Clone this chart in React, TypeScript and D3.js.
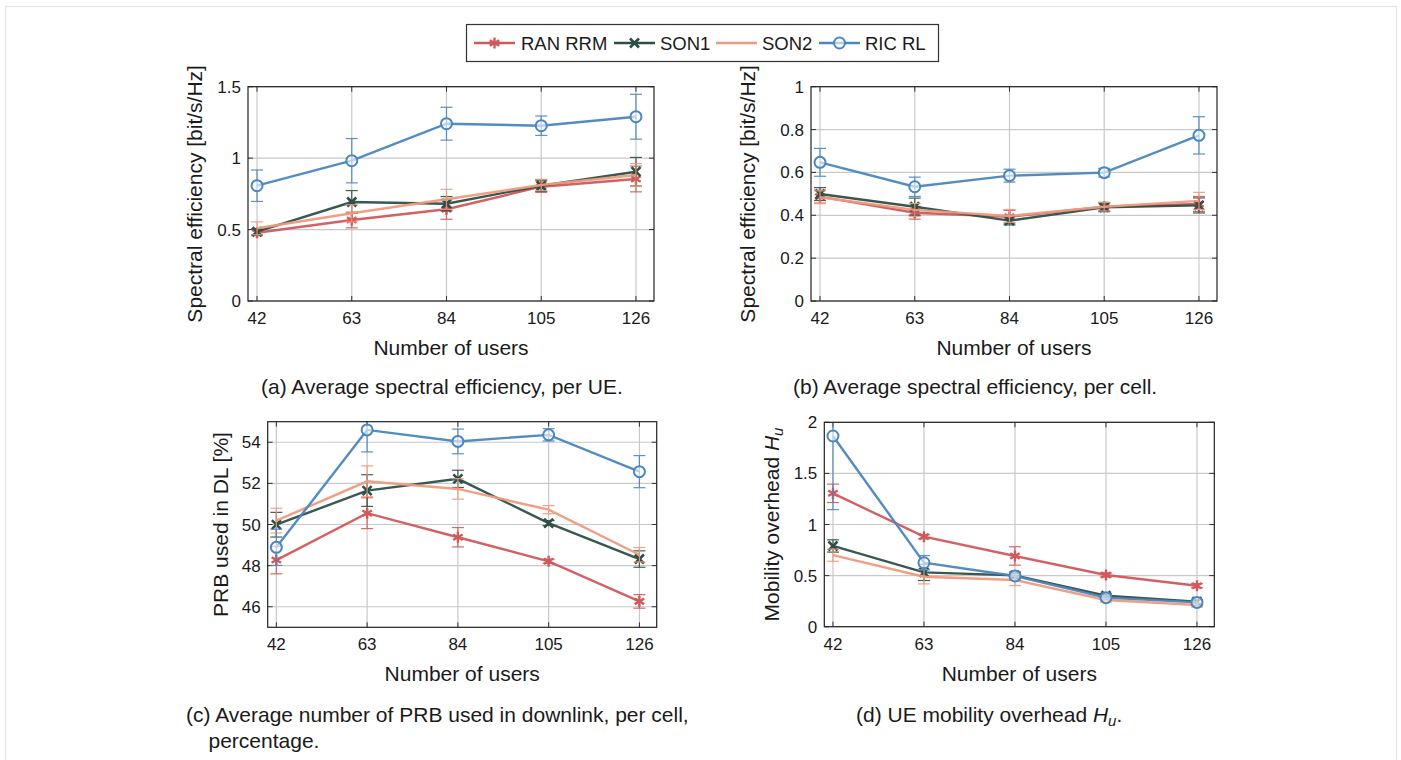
import React from 'react';
import * as d3 from 'd3';

// x values shared by every panel
const users = [42, 63, 84, 105, 126];
const seriesNames = ['RAN RRM', 'SON1', 'SON2', 'RIC RL'];
const seriesColors = ['#d1595b', '#2d4f47', '#ef9a7e', '#4a86bf'];
const seriesMarkers = ['star', 'cross', 'none', 'circle'];

// (a) spectral efficiency per UE
const seUeMean = [
  [0.478, 0.567, 0.642, 0.8, 0.854],
  [0.485, 0.693, 0.681, 0.807, 0.905],
  [0.509, 0.614, 0.712, 0.812, 0.882],
  [0.807, 0.982, 1.241, 1.227, 1.29],
];
const seUeErr = [
  [0.02, 0.055, 0.07, 0.04, 0.09],
  [0.02, 0.08, 0.05, 0.04, 0.1],
  [0.045, 0.06, 0.07, 0.04, 0.08],
  [0.11, 0.155, 0.115, 0.068, 0.157],
];
const seUeTicks = [0, 0.5, 1, 1.5];

// (b) spectral efficiency per cell
const seCellMean = [
  [0.487, 0.412, 0.393, 0.44, 0.453],
  [0.499, 0.44, 0.375, 0.437, 0.446],
  [0.484, 0.425, 0.397, 0.44, 0.467],
  [0.647, 0.533, 0.585, 0.599, 0.773],
];
const seCellErr = [
  [0.03, 0.03, 0.03, 0.02, 0.035],
  [0.03, 0.04, 0.02, 0.02, 0.035],
  [0.03, 0.03, 0.03, 0.02, 0.04],
  [0.065, 0.045, 0.03, 0.02, 0.087],
];
const seCellTicks = [0, 0.2, 0.4, 0.6, 0.8, 1];

// (c) PRB used in DL [%]
const prbMean = [
  [48.27, 50.55, 49.38, 48.21, 46.26],
  [49.99, 51.65, 52.22, 50.07, 48.32],
  [50.19, 52.1, 51.73, 50.72, 48.53],
  [48.89, 54.6, 54.04, 54.36, 52.57],
];
const prbErr = [
  [0.67, 0.75, 0.47, 0.1, 0.33],
  [0.6, 0.77, 0.42, 0.12, 0.4],
  [0.6, 0.75, 0.5, 0.2, 0.35],
  [0.88, 1.07, 0.6, 0.3, 0.78],
];
const prbTicks = [46, 48, 50, 52, 54];

// (d) mobility overhead H_u
const mobMean = [
  [1.305, 0.881, 0.692, 0.506, 0.401],
  [0.79, 0.532, 0.502, 0.303, 0.245],
  [0.7, 0.489, 0.457, 0.261, 0.212],
  [1.866, 0.626, 0.496, 0.284, 0.238],
];
const mobErr = [
  [0.09, 0.02, 0.09, 0.02, 0.02],
  [0.06, 0.08, 0.03, 0.02, 0.02],
  [0.06, 0.07, 0.055, 0.02, 0.02],
  [0.72, 0.07, 0.04, 0.02, 0.03],
];
const mobTicks = [0, 0.5, 1, 1.5, 2];

const FONT = '"Liberation Sans", Arial, Helvetica, sans-serif';
const TEXT = '#1a1a1a';
const LABEL_SIZE = 21;

const Marker = ({ kind, x, y, color }: { kind: string; x: number; y: number; color: string }) => {
  if (kind === 'circle') {
    return <circle cx={x} cy={y} r={5.5} fill="#fff" fillOpacity={0.6} stroke={color} strokeWidth={2} />;
  }
  if (kind === 'cross') {
    const r = 4.5;
    return (
      <g stroke={color} strokeWidth={2.6}>
        <line x1={x - r} y1={y - r} x2={x + r} y2={y + r} />
        <line x1={x - r} y1={y + r} x2={x + r} y2={y - r} />
      </g>
    );
  }
  if (kind === 'star') {
    const r = 5.5;
    return (
      <g stroke={color} strokeWidth={2.4}>
        {[90, 30, -30].map(a => {
          const dx = r * Math.cos((a * Math.PI) / 180);
          const dy = r * Math.sin((a * Math.PI) / 180);
          return <line key={a} x1={x - dx} y1={y - dy} x2={x + dx} y2={y + dy} />;
        })}
      </g>
    );
  }
  return null;
};

interface PanelProps {
  id: string;
  left: number;
  right: number;
  top: number;
  bottom: number;
  yDomain: [number, number];
  yTicks: number[];
  means: number[][];
  errs: number[][];
  yLabelX: number;
  yLabel: React.ReactNode;
}

const Panel: React.FC<PanelProps> = ({ id, left, right, top, bottom, yDomain, yTicks, means, errs, yLabelX, yLabel }) => {
  const x = d3.scaleLinear().domain([40, 130]).range([left, right]);
  const y = d3.scaleLinear().domain(yDomain).range([bottom, top]);
  const line = d3.line<[number, number]>().x(d => x(d[0])).y(d => y(d[1]));
  const midY = (top + bottom) / 2;

  return (
    <g>
      <defs>
        <clipPath id={`clip-${id}`}>
          <rect x={left} y={top} width={right - left} height={bottom - top} />
        </clipPath>
      </defs>
      {/* grid */}
      {users.map(u => (
        <line key={`gx${u}`} x1={x(u)} x2={x(u)} y1={top} y2={bottom} stroke="#c9c9c9" strokeWidth={1.2} />
      ))}
      {yTicks.map(t => (
        <line key={`gy${t}`} x1={left} x2={right} y1={y(t)} y2={y(t)} stroke="#c9c9c9" strokeWidth={1.2} />
      ))}
      {/* ticks, inside on all four sides */}
      {users.map(u => (
        <g key={`tx${u}`} stroke="#333" strokeWidth={1}>
          <line x1={x(u)} x2={x(u)} y1={bottom} y2={bottom - 5} />
          <line x1={x(u)} x2={x(u)} y1={top} y2={top + 5} />
        </g>
      ))}
      {yTicks.map(t => (
        <g key={`ty${t}`} stroke="#333" strokeWidth={1}>
          <line x1={left} x2={left + 5} y1={y(t)} y2={y(t)} />
          <line x1={right} x2={right - 5} y1={y(t)} y2={y(t)} />
        </g>
      ))}
      {/* series */}
      <g clipPath={`url(#clip-${id})`}>
        {means.map((vals, s) => {
          const col = seriesColors[s];
          const pts = users.map((u, i) => [u, vals[i]] as [number, number]);
          return (
            <g key={s}>
              {pts.map(([u, v], i) => {
                const e = errs[s][i];
                const y1 = y(v + e);
                const y2 = y(v - e);
                return (
                  <g key={i} stroke={col} strokeWidth={1.2} opacity={0.9}>
                    <line x1={x(u)} x2={x(u)} y1={y1} y2={y2} />
                    <line x1={x(u) - 6} x2={x(u) + 6} y1={y1} y2={y1} />
                    <line x1={x(u) - 6} x2={x(u) + 6} y1={y2} y2={y2} />
                  </g>
                );
              })}
              <path d={line(pts) || ''} fill="none" stroke={col} strokeWidth={2.4} strokeOpacity={0.95} />
              {pts.map(([u, v], i) => (
                <Marker key={i} kind={seriesMarkers[s]} x={x(u)} y={y(v)} color={col} />
              ))}
            </g>
          );
        })}
      </g>
      {/* frame */}
      <rect x={left} y={top} width={right - left} height={bottom - top} fill="none" stroke="#222" strokeWidth={1.2} />
      {/* tick labels */}
      {users.map(u => (
        <text key={`lx${u}`} x={x(u)} y={bottom + 23} textAnchor="middle" fontSize={17} fill={TEXT}>
          {u}
        </text>
      ))}
      {yTicks.map(t => (
        <text key={`ly${t}`} x={left - 7} y={y(t) + 6} textAnchor="end" fontSize={17} fill={TEXT}>
          {String(t)}
        </text>
      ))}
      <text x={(left + right) / 2} y={bottom + 54} textAnchor="middle" fontSize={LABEL_SIZE} fill={TEXT}>
        Number of users
      </text>
      <text transform={`translate(${yLabelX}, ${midY}) rotate(-90)`} textAnchor="middle" fontSize={LABEL_SIZE} fill={TEXT}>
        {yLabel}
      </text>
    </g>
  );
};

const Legend: React.FC = () => {
  const items = [
    { lx: 474, tx: 521 },
    { lx: 614, tx: 660 },
    { lx: 716, tx: 762 },
    { lx: 819, tx: 865 },
  ];
  const cy = 43;
  return (
    <g>
      <rect x={466.5} y={24.5} width={472} height={37} fill="#fff" stroke="#333" strokeWidth={1.2} />
      {items.map((it, s) => (
        <g key={s}>
          <line x1={it.lx} x2={it.lx + 41} y1={cy} y2={cy} stroke={seriesColors[s]} strokeWidth={2.4} />
          <Marker kind={seriesMarkers[s]} x={it.lx + 20.5} y={cy} color={seriesColors[s]} />
          <text x={it.tx} y={cy + 6.5} fontSize={18.5} fill={TEXT}>
            {seriesNames[s]}
          </text>
        </g>
      ))}
    </g>
  );
};

export default function App() {
  return (
    <svg
      width={1401}
      height={760}
      style={{ position: 'absolute', left: 0, top: 0, background: '#fff' }}
      fontFamily={FONT}
    >
      <rect x={0} y={0} width={1401} height={760} fill="#fff" />
      <rect x={5.5} y={6.5} width={1391} height={800} fill="none" stroke="#e4e4e4" strokeWidth={1.2} />
      <Legend />
      <Panel
        id="a"
        left={248}
        right={654}
        top={86.7}
        bottom={301}
        yDomain={[0, 1.5]}
        yTicks={seUeTicks}
        means={seUeMean}
        errs={seUeErr}
        yLabelX={202}
        yLabel="Spectral efficiency [bit/s/Hz]"
      />
      <Panel
        id="b"
        left={811}
        right={1217}
        top={86.7}
        bottom={301}
        yDomain={[0, 1]}
        yTicks={seCellTicks}
        means={seCellMean}
        errs={seCellErr}
        yLabelX={755}
        yLabel="Spectral efficiency [bit/s/Hz]"
      />
      <Panel
        id="c"
        left={267.7}
        right={656.7}
        top={421.7}
        bottom={627.3}
        yDomain={[45, 55]}
        yTicks={prbTicks}
        means={prbMean}
        errs={prbErr}
        yLabelX={228}
        yLabel="PRB used in DL [%]"
      />
      <Panel
        id="d"
        left={824.3}
        right={1214.3}
        top={422.3}
        bottom={626.7}
        yDomain={[0, 2]}
        yTicks={mobTicks}
        means={mobMean}
        errs={mobErr}
        yLabelX={779}
        yLabel={
          <>
            Mobility overhead <tspan fontStyle="italic">H</tspan>
            <tspan fontStyle="italic" fontSize={15} dy={4}>u</tspan>
          </>
        }
      />
      {/* captions */}
      <text x={261} y={394} fontSize={LABEL_SIZE} fill={TEXT}>
        (a) Average spectral efficiency, per UE.
      </text>
      <text x={793} y={394} fontSize={LABEL_SIZE} fill={TEXT}>
        (b) Average spectral efficiency, per cell.
      </text>
      <text x={186} y={722} fontSize={LABEL_SIZE} fill={TEXT}>
        (c) Average number of PRB used in downlink, per cell,
      </text>
      <text x={208.5} y={748} fontSize={LABEL_SIZE} fill={TEXT}>
        percentage.
      </text>
      <text x={856} y={722} fontSize={LABEL_SIZE} fill={TEXT}>
        (d) UE mobility overhead <tspan fontStyle="italic">H</tspan>
        <tspan fontStyle="italic" fontSize={15} dy={4}>u</tspan>
        <tspan dy={-4}>.</tspan>
      </text>
    </svg>
  );
}
